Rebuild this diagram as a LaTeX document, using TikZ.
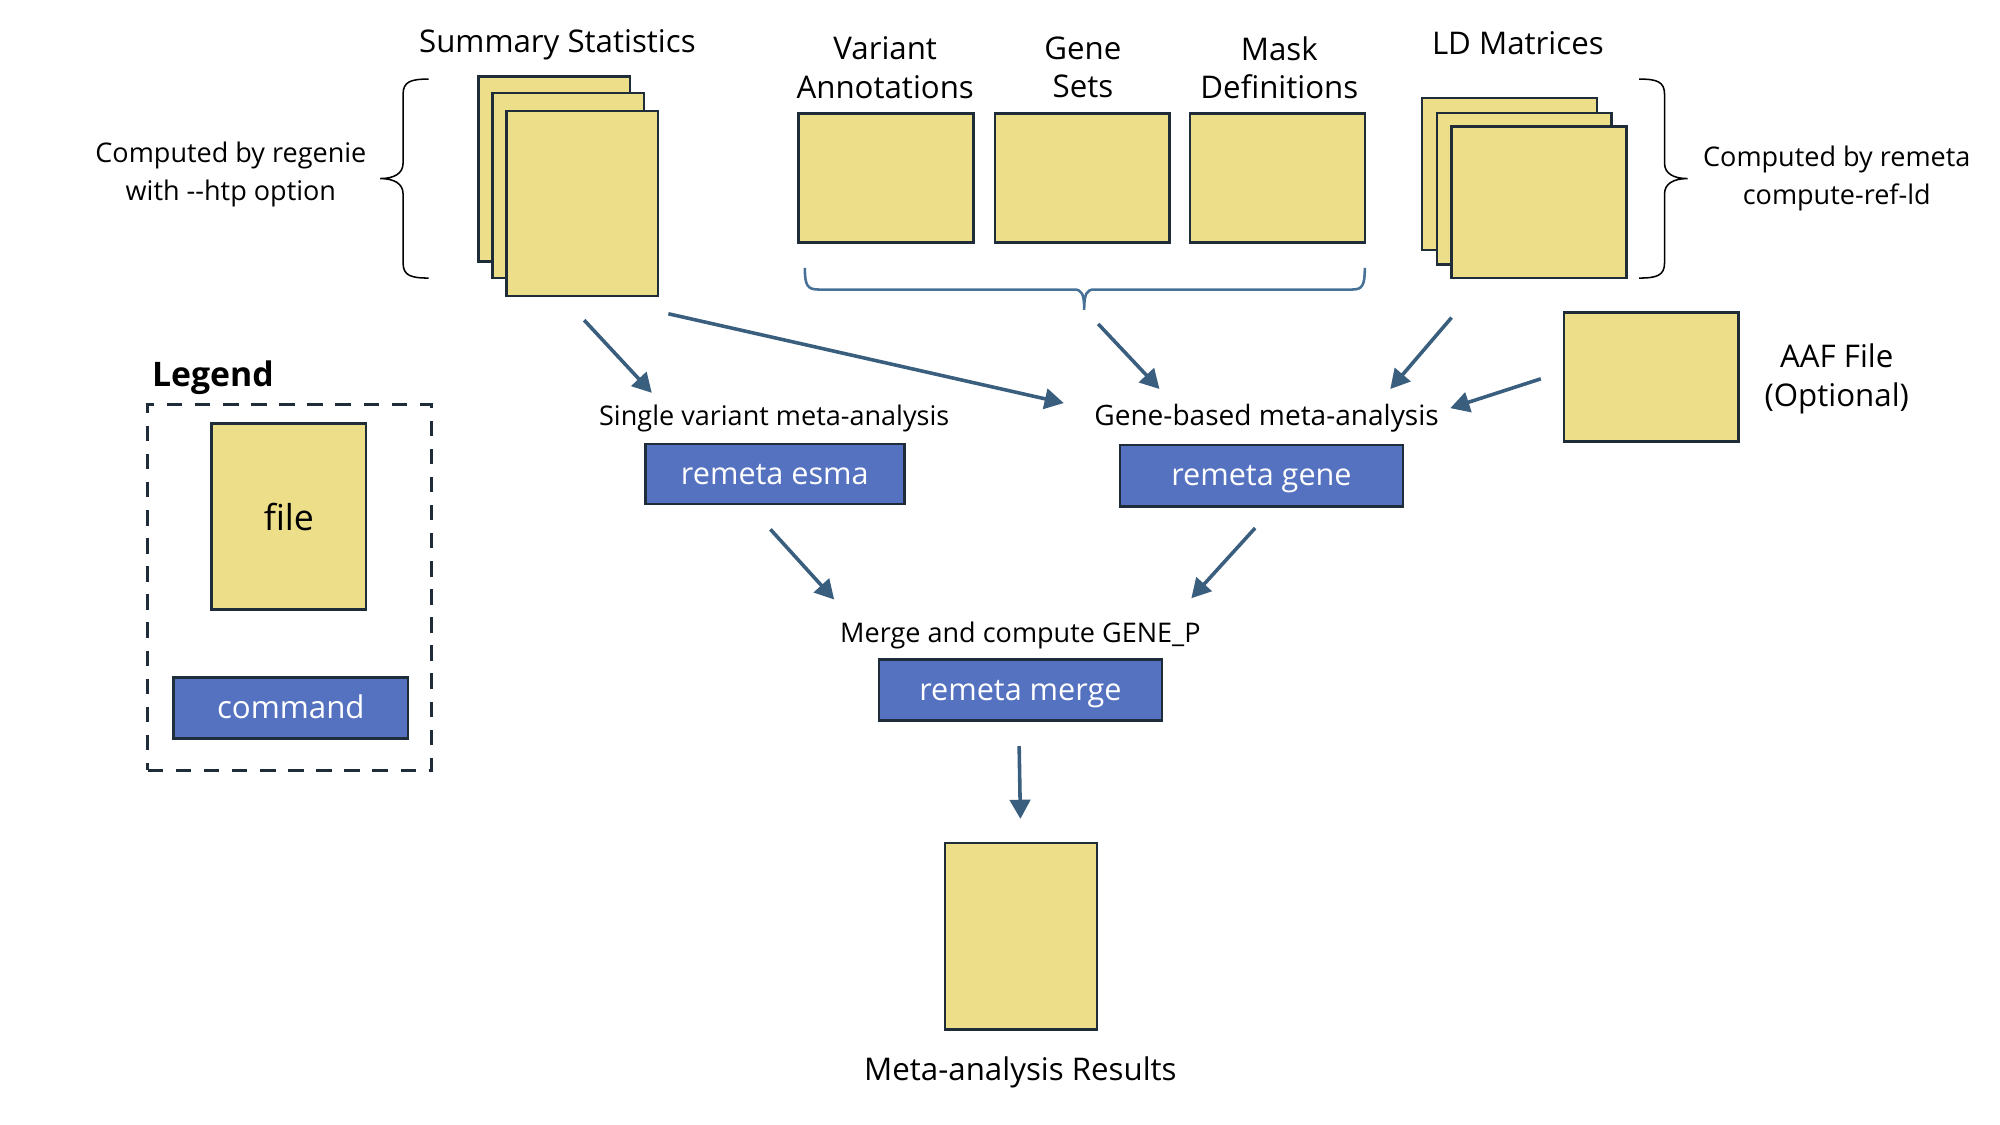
\documentclass[tikz,border=0pt]{standalone}
\usepackage{fontspec}
\setmainfont{Open Sans}
\usetikzlibrary{arrows.meta,calc}
\definecolor{fileyellow}{RGB}{237,223,137}
\definecolor{cmdblue}{RGB}{85,114,192}
\definecolor{edgecol}{RGB}{31,45,58}
\definecolor{arrowcol}{RGB}{58,94,126}
\definecolor{bracecol}{RGB}{70,112,150}
\begin{document}
\begin{tikzpicture}[x=1pt,y=-1pt,
  filebox/.style={draw=edgecol,fill=fileyellow,line width=2pt,inner sep=0pt},
  cmdbox/.style={draw=edgecol,fill=cmdblue,line width=2pt,text=white,inner sep=0pt,text height=18pt,text depth=2pt,font=\fontsize{24}{28}\selectfont},
  lbl/.style={font=\fontsize{21.2}{29.5}\selectfont,align=center,inner sep=0pt},
  captxt/.style={font=\fontsize{24.5}{30}\selectfont,align=center,inner sep=0pt},
  arr/.style={draw=arrowcol,line width=2.8pt,-{Triangle[length=15pt,width=16pt]}},
  bracestyle/.style={draw=black,line width=1.2pt},
  legdash/.style={draw=edgecol,line width=2.4pt,dash pattern=on 12pt off 10pt}
]
\useasboundingbox (0,0) rectangle (1568,882);

% Summary statistics
\node[captxt] (sstitle) at (437,35) {Summary Statistics};
\node[filebox,minimum width=119pt,minimum height=145pt] (ss1) at (434.5,132.5) {};
\node[filebox,minimum width=119pt,minimum height=145pt] (ss2) at (445.5,145.5) {};
\node[filebox,minimum width=119pt,minimum height=145pt] (ss3) at (456.5,159.5) {};
\draw[bracestyle] (336,62) .. controls (322,62) and (316,64) .. (316,74) -- (316,128)
  .. controls (316,136) and (309,140) .. (298,140)
  .. controls (309,140) and (316,144) .. (316,152) -- (316,206)
  .. controls (316,216) and (322,218) .. (336,218);
\node[lbl] (regtext) at (181,137) {Computed by regenie\\with {-}{-}htp option};

% Annotation inputs
\node[captxt] (vatitle) at (694,53) {Variant\\Annotations};
\node[captxt] (gstitle) at (849,53) {Gene\\Sets};
\node[captxt] (mdtitle) at (1003,53) {Mask\\Definitions};
\node[filebox,minimum width=137pt,minimum height=101pt] (va) at (694.5,139.5) {};
\node[filebox,minimum width=137pt,minimum height=101pt] (gs) at (848.5,139.5) {};
\node[filebox,minimum width=137pt,minimum height=101pt] (md) at (1001.5,139.5) {};
\draw[draw=bracecol,line width=2pt] (631,210) .. controls (631,224) and (633,227) .. (642,227)
  -- (842,227) .. controls (848,227) and (850,230) .. (850,243)
  .. controls (850,230) and (852,227) .. (858,227) -- (1060,227)
  .. controls (1068,227) and (1070,224) .. (1070,210);

% LD matrices
\node[captxt] (ldtitle) at (1190,34) {LD Matrices};
\node[filebox,minimum width=137pt,minimum height=119pt] (ld1) at (1183.5,136.5) {};
\node[filebox,minimum width=137pt,minimum height=119pt] (ld2) at (1195,148) {};
\node[filebox,minimum width=137pt,minimum height=119pt] (ld3) at (1206.5,158.5) {};
\draw[bracestyle] (1285,62) .. controls (1299,62) and (1305,64) .. (1305,74) -- (1305,128)
  .. controls (1305,136) and (1312,140) .. (1323,140)
  .. controls (1312,140) and (1305,144) .. (1305,152) -- (1305,206)
  .. controls (1305,216) and (1299,218) .. (1285,218);
\node[lbl] (remtext) at (1440,140) {Computed by remeta\\compute-ref-ld};

% AAF
\node[filebox,minimum width=137pt,minimum height=101pt] (aaf) at (1294.5,295.5) {};
\node[captxt] (aaftext) at (1440,297) {AAF File\\(Optional)};

% Legend
\node[font=\fontsize{26.5}{30}\selectfont\bfseries,anchor=west,inner sep=0pt] (legtitle) at (119,296) {Legend};
\node[legdash,minimum width=222pt,minimum height=287pt,inner sep=0pt] (legbox) at (227,460.5) {};
\node[filebox,minimum width=121pt,minimum height=146pt,font=\fontsize{28}{32}\selectfont] (legfile) at (226.5,405) {file};
\node[cmdbox,minimum width=184pt,minimum height=48pt,font=\fontsize{24.5}{28}\selectfont] (legcmd) at (228,555) {command};

% Commands
\node[lbl] (svlbl) at (607,328) {Single variant meta-analysis};
\node[cmdbox,minimum width=203pt,minimum height=47pt] (esma) at (607.5,371.5) {remeta esma};
\node[lbl,font=\fontsize{22}{29.5}\selectfont] (gblbl) at (993,328) {Gene-based meta-analysis};
\node[cmdbox,minimum width=222pt,minimum height=48pt] (gene) at (989,373) {remeta gene};
\node[lbl] (mglbl) at (800,498) {Merge and compute GENE\_P};
\node[cmdbox,minimum width=222pt,minimum height=48pt] (merge) at (800,541) {remeta merge};

% Results
\node[filebox,minimum width=119pt,minimum height=146pt] (res) at (800.5,734) {};
\node[captxt] (restext) at (800,841) {Meta-analysis Results};

% Arrow end points
\coordinate (a1s) at (458,251); \coordinate (a1e) at (511,308);
\coordinate (a2s) at (524,246); \coordinate (a2e) at (834,316);
\coordinate (a3s) at (861,254); \coordinate (a3e) at (909,305);
\coordinate (a4s) at (1138,249); \coordinate (a4e) at (1090,305);
\coordinate (a5s) at (1208,297); \coordinate (a5e) at (1137,320);
\coordinate (a6s) at (604,415); \coordinate (a6e) at (654,470);
\coordinate (a7s) at (984,414); \coordinate (a7e) at (934,469);
\coordinate (a8s) at (799,585); \coordinate (a8e) at (800,642);

\draw[arr] (a1s) -- (a1e);
\draw[arr] (a2s) -- (a2e);
\draw[arr] (a3s) -- (a3e);
\draw[arr] (a4s) -- (a4e);
\draw[arr] (a5s) -- (a5e);
\draw[arr] (a6s) -- (a6e);
\draw[arr] (a7s) -- (a7e);
\draw[arr] (a8s) -- (a8e);
\end{tikzpicture}
\end{document}
